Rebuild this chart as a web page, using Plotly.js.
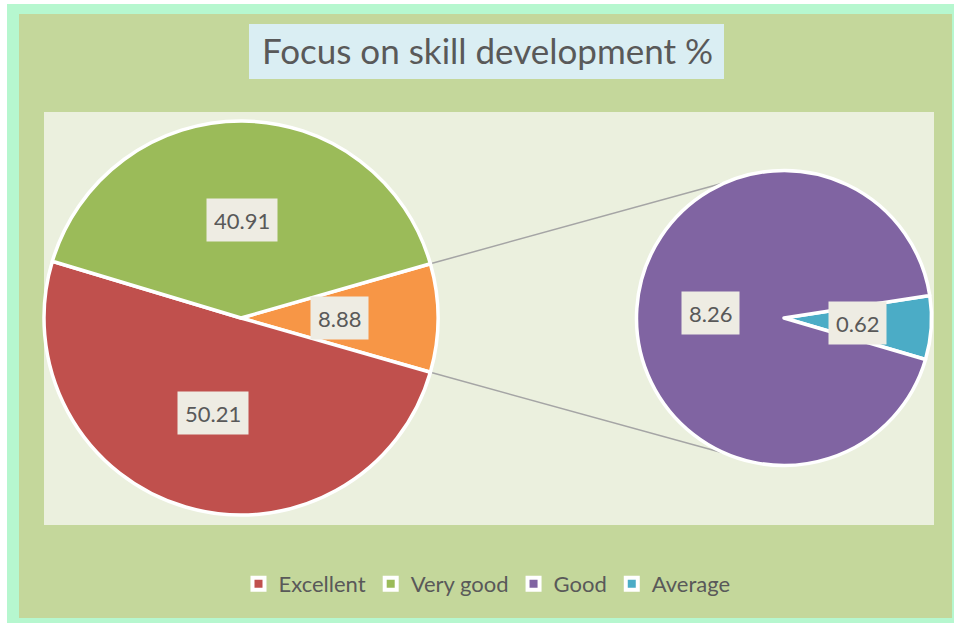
<!DOCTYPE html>
<html>
<head>
<meta charset="utf-8">
<script src="https://cdn.plot.ly/plotly-3.0.1.min.js"></script>
<style>html,body{margin:0;padding:0;background:#fff;}#chart{width:954px;height:623px;}</style>
</head>
<body>
<div id="chart"></div>
<script>
// ---- data ----
const categories = ['Excellent', 'Very good', 'Good', 'Average'];
const values = [50.21, 40.91, 8.26, 0.62];
const colors = ['#c0504d', '#9bbb59', '#8064a2', '#4bacc6'];
const otherLabel = 'Other';
const otherColor = '#f79646';
const titleText = 'Focus on skill development %';

// ---- derived series ----
const otherValue = values[2] + values[3];
// main pie (clockwise order): Other, Excellent, Very good
const mainLabels = [otherLabel, categories[0], categories[1]];
const mainValues = [otherValue, values[0], values[1]];
const mainColors = [otherColor, colors[0], colors[1]];
// secondary pie (clockwise order): Average, Good
const subLabels = [categories[3], categories[2]];
const subValues = [values[3], values[2]];
const subColors = [colors[3], colors[2]];

// ---- geometry (layout) ----
const W = 954, H = 623;
const L = {cx: 241, cy: 318, r: 197};
const R = {cx: 784, cy: 318, r: 147.5};
const mainTotal = mainValues.reduce((a, b) => a + b, 0);
const mainRot = 90 - (otherValue / mainTotal) * 180; // center "Other" on 3 o'clock
const subRot = 81.2;
const connectorDeg = 22.7; // from 12 o'clock on the secondary pie
const FONT = 'Lato, Carlito, sans-serif';

function domainFor(p) {
  return {x: [(p.cx - p.r) / W, (p.cx + p.r) / W], y: [1 - (p.cy + p.r) / H, 1 - (p.cy - p.r) / H]};
}
function pt(p, deg, k) {
  const a = deg * Math.PI / 180;
  return [p.cx + k * p.r * Math.sin(a), p.cy - k * p.r * Math.cos(a)];
}
function labelAnns(p, vals, rot) {
  const tot = vals.reduce((a, b) => a + b, 0);
  let cum = 0;
  return vals.map(v => {
    const mid = rot + (cum + v / 2) / tot * 360;
    cum += v;
    const [x, y] = pt(p, mid, 0.5);
    return {
      x: x / W, y: 1 - y / H, xref: 'paper', yref: 'paper', showarrow: false,
      text: v.toFixed(2), font: {family: FONT, size: 22, color: '#595959'},
      bgcolor: '#eeece3', borderpad: 7, height: 28, xanchor: 'center', yanchor: 'middle'
    };
  });
}

const traces = [
  {
    type: 'pie', sort: false, direction: 'clockwise', textinfo: 'none', hoverinfo: 'label+value', showlegend: false,
    labels: mainLabels, values: mainValues, rotation: mainRot,
    marker: {colors: mainColors, line: {color: '#ffffff', width: 3.5}},
    domain: domainFor(L)
  },
  {
    type: 'pie', sort: false, direction: 'clockwise', textinfo: 'none', hoverinfo: 'label+value', showlegend: false,
    labels: subLabels, values: subValues, rotation: subRot,
    marker: {colors: subColors, line: {color: '#ffffff', width: 3.5}},
    domain: domainFor(R)
  }
];
// legend entries
categories.forEach((c, i) => {
  traces.push({
    type: 'scatter', mode: 'markers', x: [null], y: [null], name: c,
    marker: {symbol: 'square', size: 12, color: colors[i], line: {color: '#ffffff', width: 4}},
    showlegend: true, hoverinfo: 'skip'
  });
});

// connector lines
const otherAng = (otherValue / mainTotal) * 360;
const lTop = pt(L, mainRot, 1), lBot = pt(L, mainRot + otherAng, 1);
const rTop = pt(R, -connectorDeg, 1), rBot = pt(R, 180 + connectorDeg, 1);

function rect(x0, y0, x1, y1, color) {
  return {type: 'rect', xref: 'paper', yref: 'paper', x0: x0 / W, x1: x1 / W, y0: 1 - y1 / H, y1: 1 - y0 / H,
    fillcolor: color, line: {width: 0}, layer: 'below'};
}
function line(a, b) {
  return {type: 'line', xref: 'paper', yref: 'paper', x0: a[0] / W, y0: 1 - a[1] / H, x1: b[0] / W, y1: 1 - b[1] / H,
    line: {color: '#a5a5a5', width: 1.5}, layer: 'below'};
}

const layout = {
  width: W, height: H,
  margin: {l: 0, r: 0, t: 0, b: 0},
  paper_bgcolor: '#ffffff', plot_bgcolor: 'rgba(0,0,0,0)',
  xaxis: {visible: false}, yaxis: {visible: false},
  title: {text: titleText, x: 487.5 / W, xanchor: 'center', y: 1 - 52 / H, yanchor: 'middle',
    font: {family: FONT, size: 35, color: '#595959'}},
  showlegend: true,
  legend: {orientation: 'h', x: 487 / W, xanchor: 'center', y: 1 - 584 / H, yanchor: 'middle',
    bgcolor: 'rgba(0,0,0,0)', font: {family: FONT, size: 22, color: '#595959'}},
  shapes: [
    rect(7, 4, 954, 623, '#b6f7cf'),
    rect(19, 14, 952, 618, '#c4d79b'),
    rect(44, 112, 934, 525, '#ebf0de'),
    rect(249, 24, 724, 79, '#daeef3'),
    line(lTop, rTop),
    line(lBot, rBot)
  ],
  annotations: labelAnns(L, mainValues, mainRot).concat(labelAnns(R, subValues, subRot))
};

Plotly.newPlot('chart', traces, layout, {displayModeBar: false, staticPlot: true});
</script>
</body>
</html>
